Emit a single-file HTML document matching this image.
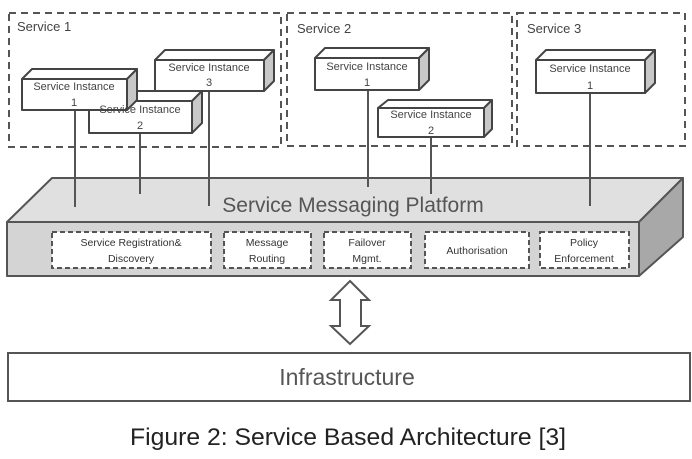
<!DOCTYPE html>
<html><head><meta charset="utf-8"><style>
html,body{margin:0;padding:0;background:#fff;}
svg{display:block;font-family:"Liberation Sans",sans-serif;}
</style></head><body>
<svg width="692" height="459" viewBox="0 0 692 459" xmlns="http://www.w3.org/2000/svg">
<g fill="none" stroke="#555" stroke-width="2" stroke-dasharray="7,5">
<rect x="9" y="13" width="272" height="134"/>
<rect x="287" y="13" width="225" height="133"/>
<rect x="517" y="13" width="168" height="133"/>
</g>
<g font-size="13" fill="#444">
<text x="17" y="31">Service 1</text>
<text x="297" y="33">Service 2</text>
<text x="527" y="33">Service 3</text>
</g>
<!-- connectors -->
<g stroke="#555" stroke-width="2">
<line x1="75" y1="110" x2="75" y2="207"/>
<line x1="140" y1="133" x2="140" y2="194"/>
<line x1="209" y1="90" x2="209" y2="206"/>
<line x1="368" y1="90" x2="368" y2="187"/>
<line x1="431" y1="137" x2="431" y2="194"/>
<line x1="590" y1="93" x2="590" y2="206"/>
</g>
<!-- platform -->
<g stroke="#555" stroke-width="2" stroke-linejoin="round">
<polygon points="52,178 683,178 639,222 7,222" fill="#e0e0e0"/>
<polygon points="639,222 683,178 683,237 639,276" fill="#a8a8a8"/>
<rect x="7" y="222" width="632" height="54" fill="#d4d4d4"/>
</g>
<g stroke="#555" stroke-width="2">
<line x1="75" y1="178" x2="75" y2="207"/>
<line x1="140" y1="178" x2="140" y2="194"/>
<line x1="209" y1="178" x2="209" y2="206"/>
<line x1="368" y1="178" x2="368" y2="187"/>
<line x1="431" y1="178" x2="431" y2="194"/>
<line x1="590" y1="178" x2="590" y2="206"/>
</g>
<text x="353" y="212" font-size="21" fill="#555" text-anchor="middle">Service Messaging Platform</text>
<g fill="#fff" stroke="#555" stroke-width="2" stroke-dasharray="5,3">
<rect x="52" y="232" width="159" height="36"/>
<rect x="224" y="232" width="87" height="36"/>
<rect x="324" y="232" width="87" height="36"/>
<rect x="425" y="232" width="104" height="36"/>
<rect x="540" y="232" width="89" height="36"/>
</g>
<g font-size="10.5" fill="#333" text-anchor="middle">
<text x="131" y="246">Service Registration&amp;</text><text x="131" y="262">Discovery</text>
<text x="267" y="246">Message</text><text x="267" y="262">Routing</text>
<text x="367" y="246">Failover</text><text x="367" y="262">Mgmt.</text>
<text x="477" y="254">Authorisation</text>
<text x="584" y="246">Policy</text><text x="584" y="262">Enforcement</text>
</g>
<!-- instances -->
<g stroke="#444" stroke-width="2" stroke-linejoin="round">
<g>
<polygon points="165,50 274,50 264,60 155,60" fill="#fff"/>
<polygon points="264,60 274,50 274,81 264,91" fill="#c8c8c8"/>
<rect x="155" y="60" width="109" height="31" fill="#fff"/>
</g>
<g>
<polygon points="99,91 202,91 192,101 89,101" fill="#fff"/>
<polygon points="192,101 202,91 202,123 192,133" fill="#c8c8c8"/>
<rect x="89" y="101" width="103" height="32" fill="#fff"/>
</g>
<g>
<polygon points="32,69 137,69 127,79 22,79" fill="#fff"/>
<polygon points="127,79 137,69 137,100 127,110" fill="#c8c8c8"/>
<rect x="22" y="79" width="105" height="31" fill="#fff"/>
</g>
<g>
<polygon points="325,48 429,48 419,58 315,58" fill="#fff"/>
<polygon points="419,58 429,48 429,80 419,90" fill="#c8c8c8"/>
<rect x="315" y="58" width="104" height="32" fill="#fff"/>
</g>
<g>
<polygon points="388,100 492,100 484,108 378,108" fill="#fff"/>
<polygon points="484,108 492,100 492,129 484,137" fill="#c8c8c8"/>
<rect x="378" y="108" width="106" height="29" fill="#fff"/>
</g>
<g>
<polygon points="546,50 655,50 645,60 536,60" fill="#fff"/>
<polygon points="645,60 655,50 655,83 645,93" fill="#c8c8c8"/>
<rect x="536" y="60" width="109" height="33" fill="#fff"/>
</g>
</g>
<g font-size="11" fill="#444" text-anchor="middle">
<text x="209" y="71">Service Instance</text><text x="209" y="86">3</text>
<text x="140" y="113">Service Instance</text><text x="140" y="129">2</text>
<text x="74" y="90">Service Instance</text><text x="74" y="106">1</text>
<text x="367" y="70">Service Instance</text><text x="367" y="86">1</text>
<text x="431" y="118">Service Instance</text><text x="431" y="134">2</text>
<text x="590" y="72">Service Instance</text><text x="590" y="89">1</text>
</g>
<!-- double arrow -->
<polygon points="350,281 369,300 361,300 361,326 369,326 350,344 331,326 340,326 340,300 331,300" fill="#fff" stroke="#555" stroke-width="2" stroke-linejoin="miter"/>
<rect x="8" y="353" width="682" height="48" fill="#fff" stroke="#555" stroke-width="2"/>
<text x="347" y="385" font-size="23" fill="#555" text-anchor="middle">Infrastructure</text>
<text x="348" y="445" font-size="24" fill="#222" text-anchor="middle" textLength="436" lengthAdjust="spacingAndGlyphs">Figure 2: Service Based Architecture [3]</text>
</svg>
</body></html>
